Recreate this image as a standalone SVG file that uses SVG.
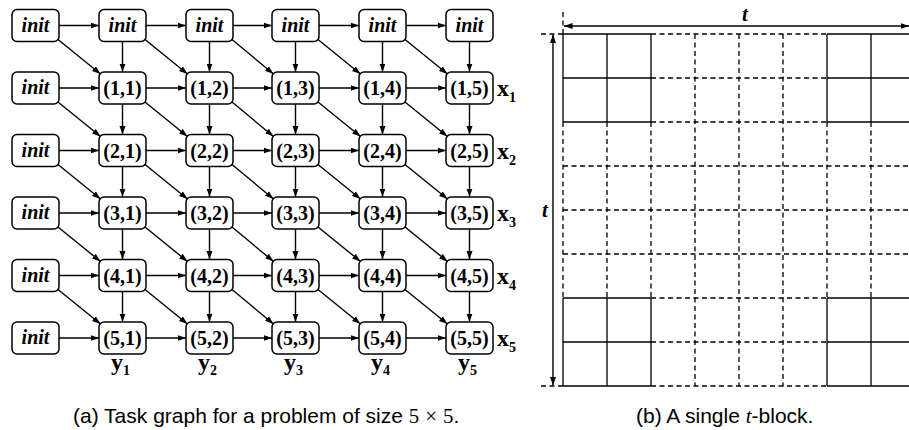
<svg xmlns="http://www.w3.org/2000/svg" width="909" height="430" viewBox="0 0 909 430">
<style>
.n rect{fill:#fff;stroke:#000;stroke-width:1.5}
.n text{font-family:"Liberation Serif",serif;font-weight:bold;font-size:20px;text-anchor:middle;fill:#000}
.n text.i{font-style:italic}
.e line{stroke:#000;stroke-width:1.4;marker-end:url(#ah)}
.lab{font-family:"Liberation Serif",serif;font-weight:bold;font-size:24px;fill:#000}
.lab tspan{font-size:14px}
.cap{font-family:"Liberation Sans",Arial,sans-serif;font-size:21px;fill:#000}
.math{font-family:"Liberation Serif",serif}
.g line{stroke:#000;stroke-width:1.3}
.g line.d{stroke-dasharray:5,3.5}
.dim line{stroke:#000;stroke-width:1.4}
.tl{font-family:"Liberation Serif",serif;font-weight:bold;font-style:italic;font-size:21px;text-anchor:middle}
</style>
<defs>
<marker id="ah" markerUnits="userSpaceOnUse" markerWidth="9" markerHeight="7" refX="8.5" refY="3.5" orient="auto"><path d="M0,0.5 L8.5,3.5 L0,6.5 z" fill="#000"/></marker>
<marker id="ah2" markerUnits="userSpaceOnUse" markerWidth="9" markerHeight="7" refX="8.5" refY="3.5" orient="auto-start-reverse"><path d="M0,0.5 L8.5,3.5 L0,6.5 z" fill="#000"/></marker>
</defs>

<g id="connectors" class="e">
<line x1="59" y1="25.5" x2="99" y2="25.5"/><line x1="146" y1="25.5" x2="186" y2="25.5"/><line x1="233" y1="25.5" x2="272" y2="25.5"/><line x1="319" y1="25.5" x2="359" y2="25.5"/><line x1="406" y1="25.5" x2="446" y2="25.5"/>
<line x1="59" y1="88" x2="99" y2="88"/><line x1="146" y1="88" x2="186" y2="88"/><line x1="233" y1="88" x2="272" y2="88"/><line x1="319" y1="88" x2="359" y2="88"/><line x1="406" y1="88" x2="446" y2="88"/>
<line x1="59" y1="150.5" x2="99" y2="150.5"/><line x1="146" y1="150.5" x2="186" y2="150.5"/><line x1="233" y1="150.5" x2="272" y2="150.5"/><line x1="319" y1="150.5" x2="359" y2="150.5"/><line x1="406" y1="150.5" x2="446" y2="150.5"/>
<line x1="59" y1="213" x2="99" y2="213"/><line x1="146" y1="213" x2="186" y2="213"/><line x1="233" y1="213" x2="272" y2="213"/><line x1="319" y1="213" x2="359" y2="213"/><line x1="406" y1="213" x2="446" y2="213"/>
<line x1="59" y1="275.5" x2="99" y2="275.5"/><line x1="146" y1="275.5" x2="186" y2="275.5"/><line x1="233" y1="275.5" x2="272" y2="275.5"/><line x1="319" y1="275.5" x2="359" y2="275.5"/><line x1="406" y1="275.5" x2="446" y2="275.5"/>
<line x1="59" y1="338" x2="99" y2="338"/><line x1="146" y1="338" x2="186" y2="338"/><line x1="233" y1="338" x2="272" y2="338"/><line x1="319" y1="338" x2="359" y2="338"/><line x1="406" y1="338" x2="446" y2="338"/>
<line x1="122.5" y1="41.5" x2="122.5" y2="72"/><line x1="209.5" y1="41.5" x2="209.5" y2="72"/><line x1="295.5" y1="41.5" x2="295.5" y2="72"/><line x1="382.5" y1="41.5" x2="382.5" y2="72"/><line x1="469.5" y1="41.5" x2="469.5" y2="72"/>
<line x1="122.5" y1="104" x2="122.5" y2="134.5"/><line x1="209.5" y1="104" x2="209.5" y2="134.5"/><line x1="295.5" y1="104" x2="295.5" y2="134.5"/><line x1="382.5" y1="104" x2="382.5" y2="134.5"/><line x1="469.5" y1="104" x2="469.5" y2="134.5"/>
<line x1="122.5" y1="166.5" x2="122.5" y2="197"/><line x1="209.5" y1="166.5" x2="209.5" y2="197"/><line x1="295.5" y1="166.5" x2="295.5" y2="197"/><line x1="382.5" y1="166.5" x2="382.5" y2="197"/><line x1="469.5" y1="166.5" x2="469.5" y2="197"/>
<line x1="122.5" y1="229" x2="122.5" y2="259.5"/><line x1="209.5" y1="229" x2="209.5" y2="259.5"/><line x1="295.5" y1="229" x2="295.5" y2="259.5"/><line x1="382.5" y1="229" x2="382.5" y2="259.5"/><line x1="469.5" y1="229" x2="469.5" y2="259.5"/>
<line x1="122.5" y1="291.5" x2="122.5" y2="322"/><line x1="209.5" y1="291.5" x2="209.5" y2="322"/><line x1="295.5" y1="291.5" x2="295.5" y2="322"/><line x1="382.5" y1="291.5" x2="382.5" y2="322"/><line x1="469.5" y1="291.5" x2="469.5" y2="322"/>
<line x1="58" y1="39.5" x2="100.5" y2="74"/><line x1="145" y1="39.5" x2="187.5" y2="74"/><line x1="232" y1="39.5" x2="273.5" y2="74"/><line x1="318" y1="39.5" x2="360.5" y2="74"/><line x1="405" y1="39.5" x2="447.5" y2="74"/>
<line x1="58" y1="102" x2="100.5" y2="136.5"/><line x1="145" y1="102" x2="187.5" y2="136.5"/><line x1="232" y1="102" x2="273.5" y2="136.5"/><line x1="318" y1="102" x2="360.5" y2="136.5"/><line x1="405" y1="102" x2="447.5" y2="136.5"/>
<line x1="58" y1="164.5" x2="100.5" y2="199"/><line x1="145" y1="164.5" x2="187.5" y2="199"/><line x1="232" y1="164.5" x2="273.5" y2="199"/><line x1="318" y1="164.5" x2="360.5" y2="199"/><line x1="405" y1="164.5" x2="447.5" y2="199"/>
<line x1="58" y1="227" x2="100.5" y2="261.5"/><line x1="145" y1="227" x2="187.5" y2="261.5"/><line x1="232" y1="227" x2="273.5" y2="261.5"/><line x1="318" y1="227" x2="360.5" y2="261.5"/><line x1="405" y1="227" x2="447.5" y2="261.5"/>
<line x1="58" y1="289.5" x2="100.5" y2="324"/><line x1="145" y1="289.5" x2="187.5" y2="324"/><line x1="232" y1="289.5" x2="273.5" y2="324"/><line x1="318" y1="289.5" x2="360.5" y2="324"/><line x1="405" y1="289.5" x2="447.5" y2="324"/>
</g>

<g id="init-0-0" class="n"><rect x="12" y="9.5" width="47" height="32" rx="5"/><text class="i" x="35.5" y="31.5">init</text></g>
<g id="init-0-1" class="n"><rect x="99" y="9.5" width="47" height="32" rx="5"/><text class="i" x="122.5" y="31.5">init</text></g>
<g id="init-0-2" class="n"><rect x="186" y="9.5" width="47" height="32" rx="5"/><text class="i" x="209.5" y="31.5">init</text></g>
<g id="init-0-3" class="n"><rect x="272" y="9.5" width="47" height="32" rx="5"/><text class="i" x="295.5" y="31.5">init</text></g>
<g id="init-0-4" class="n"><rect x="359" y="9.5" width="47" height="32" rx="5"/><text class="i" x="382.5" y="31.5">init</text></g>
<g id="init-0-5" class="n"><rect x="446" y="9.5" width="47" height="32" rx="5"/><text class="i" x="469.5" y="31.5">init</text></g>
<g id="init-1" class="n"><rect x="12" y="72" width="47" height="32" rx="5"/><text class="i" x="35.5" y="94">init</text></g>
<g id="n11" class="n"><rect x="99" y="72" width="47" height="32" rx="5"/><text x="122.5" y="95">(1,1)</text></g>
<g id="n12" class="n"><rect x="186" y="72" width="47" height="32" rx="5"/><text x="209.5" y="95">(1,2)</text></g>
<g id="n13" class="n"><rect x="272" y="72" width="47" height="32" rx="5"/><text x="295.5" y="95">(1,3)</text></g>
<g id="n14" class="n"><rect x="359" y="72" width="47" height="32" rx="5"/><text x="382.5" y="95">(1,4)</text></g>
<g id="n15" class="n"><rect x="446" y="72" width="47" height="32" rx="5"/><text x="469.5" y="95">(1,5)</text></g>
<g id="init-2" class="n"><rect x="12" y="134.5" width="47" height="32" rx="5"/><text class="i" x="35.5" y="156.5">init</text></g>
<g id="n21" class="n"><rect x="99" y="134.5" width="47" height="32" rx="5"/><text x="122.5" y="157.5">(2,1)</text></g>
<g id="n22" class="n"><rect x="186" y="134.5" width="47" height="32" rx="5"/><text x="209.5" y="157.5">(2,2)</text></g>
<g id="n23" class="n"><rect x="272" y="134.5" width="47" height="32" rx="5"/><text x="295.5" y="157.5">(2,3)</text></g>
<g id="n24" class="n"><rect x="359" y="134.5" width="47" height="32" rx="5"/><text x="382.5" y="157.5">(2,4)</text></g>
<g id="n25" class="n"><rect x="446" y="134.5" width="47" height="32" rx="5"/><text x="469.5" y="157.5">(2,5)</text></g>
<g id="init-3" class="n"><rect x="12" y="197" width="47" height="32" rx="5"/><text class="i" x="35.5" y="219">init</text></g>
<g id="n31" class="n"><rect x="99" y="197" width="47" height="32" rx="5"/><text x="122.5" y="220">(3,1)</text></g>
<g id="n32" class="n"><rect x="186" y="197" width="47" height="32" rx="5"/><text x="209.5" y="220">(3,2)</text></g>
<g id="n33" class="n"><rect x="272" y="197" width="47" height="32" rx="5"/><text x="295.5" y="220">(3,3)</text></g>
<g id="n34" class="n"><rect x="359" y="197" width="47" height="32" rx="5"/><text x="382.5" y="220">(3,4)</text></g>
<g id="n35" class="n"><rect x="446" y="197" width="47" height="32" rx="5"/><text x="469.5" y="220">(3,5)</text></g>
<g id="init-4" class="n"><rect x="12" y="259.5" width="47" height="32" rx="5"/><text class="i" x="35.5" y="281.5">init</text></g>
<g id="n41" class="n"><rect x="99" y="259.5" width="47" height="32" rx="5"/><text x="122.5" y="282.5">(4,1)</text></g>
<g id="n42" class="n"><rect x="186" y="259.5" width="47" height="32" rx="5"/><text x="209.5" y="282.5">(4,2)</text></g>
<g id="n43" class="n"><rect x="272" y="259.5" width="47" height="32" rx="5"/><text x="295.5" y="282.5">(4,3)</text></g>
<g id="n44" class="n"><rect x="359" y="259.5" width="47" height="32" rx="5"/><text x="382.5" y="282.5">(4,4)</text></g>
<g id="n45" class="n"><rect x="446" y="259.5" width="47" height="32" rx="5"/><text x="469.5" y="282.5">(4,5)</text></g>
<g id="init-5" class="n"><rect x="12" y="322" width="47" height="32" rx="5"/><text class="i" x="35.5" y="344">init</text></g>
<g id="n51" class="n"><rect x="99" y="322" width="47" height="32" rx="5"/><text x="122.5" y="345">(5,1)</text></g>
<g id="n52" class="n"><rect x="186" y="322" width="47" height="32" rx="5"/><text x="209.5" y="345">(5,2)</text></g>
<g id="n53" class="n"><rect x="272" y="322" width="47" height="32" rx="5"/><text x="295.5" y="345">(5,3)</text></g>
<g id="n54" class="n"><rect x="359" y="322" width="47" height="32" rx="5"/><text x="382.5" y="345">(5,4)</text></g>
<g id="n55" class="n"><rect x="446" y="322" width="47" height="32" rx="5"/><text x="469.5" y="345">(5,5)</text></g>

<g id="row-labels">
<text class="lab" x="497" y="96">x<tspan dy="6">1</tspan></text>
<text class="lab" x="497" y="158.5">x<tspan dy="6">2</tspan></text>
<text class="lab" x="497" y="221">x<tspan dy="6">3</tspan></text>
<text class="lab" x="497" y="283.5">x<tspan dy="6">4</tspan></text>
<text class="lab" x="497" y="346">x<tspan dy="6">5</tspan></text>
</g>
<g id="col-labels">
<text class="lab" x="111" y="370">y<tspan dy="5">1</tspan></text>
<text class="lab" x="198" y="370">y<tspan dy="5">2</tspan></text>
<text class="lab" x="284" y="370">y<tspan dy="5">3</tspan></text>
<text class="lab" x="371" y="370">y<tspan dy="5">4</tspan></text>
<text class="lab" x="458" y="370">y<tspan dy="5">5</tspan></text>
</g>

<text class="cap" x="73" y="423">(a) Task graph for a problem of size <tspan class="math">5</tspan><tspan class="math" dx="6">×</tspan><tspan class="math" dx="6">5</tspan>.</text>

<g id="grid" class="g">
<line x1="563" y1="34" x2="651" y2="34"/><line class="d" x1="651" y1="34" x2="827" y2="34"/><line x1="827" y1="34" x2="909" y2="34"/>
<line x1="563" y1="78" x2="651" y2="78"/><line class="d" x1="651" y1="78" x2="827" y2="78"/><line x1="827" y1="78" x2="909" y2="78"/>
<line x1="563" y1="122" x2="651" y2="122"/><line class="d" x1="651" y1="122" x2="827" y2="122"/><line x1="827" y1="122" x2="909" y2="122"/>
<line class="d" x1="563" y1="166" x2="909" y2="166"/>
<line class="d" x1="563" y1="210" x2="909" y2="210"/>
<line class="d" x1="563" y1="254" x2="909" y2="254"/>
<line x1="563" y1="298" x2="651" y2="298"/><line class="d" x1="651" y1="298" x2="827" y2="298"/><line x1="827" y1="298" x2="909" y2="298"/>
<line x1="563" y1="342" x2="651" y2="342"/><line class="d" x1="651" y1="342" x2="827" y2="342"/><line x1="827" y1="342" x2="909" y2="342"/>
<line x1="563" y1="386" x2="651" y2="386"/><line class="d" x1="651" y1="386" x2="827" y2="386"/><line x1="827" y1="386" x2="909" y2="386"/>
<line x1="563" y1="34" x2="563" y2="122"/><line class="d" x1="563" y1="122" x2="563" y2="298"/><line x1="563" y1="298" x2="563" y2="386"/>
<line x1="607" y1="34" x2="607" y2="122"/><line class="d" x1="607" y1="122" x2="607" y2="298"/><line x1="607" y1="298" x2="607" y2="386"/>
<line x1="651" y1="34" x2="651" y2="122"/><line class="d" x1="651" y1="122" x2="651" y2="298"/><line x1="651" y1="298" x2="651" y2="386"/>
<line class="d" x1="695" y1="34" x2="695" y2="386"/>
<line class="d" x1="739" y1="34" x2="739" y2="386"/>
<line class="d" x1="783" y1="34" x2="783" y2="386"/>
<line x1="827" y1="34" x2="827" y2="122"/><line class="d" x1="827" y1="122" x2="827" y2="298"/><line x1="827" y1="298" x2="827" y2="386"/>
<line x1="871" y1="34" x2="871" y2="122"/><line class="d" x1="871" y1="122" x2="871" y2="298"/><line x1="871" y1="298" x2="871" y2="386"/>
<line class="d" x1="541" y1="34" x2="563" y2="34"/>
<line class="d" x1="541" y1="386" x2="563" y2="386"/>
<line class="d" x1="563" y1="12" x2="563" y2="34"/>
</g>
<g id="dimensions" class="dim">
<line x1="564" y1="26" x2="909" y2="26" marker-start="url(#ah2)" marker-end="url(#ah2)"/>
<line x1="553" y1="34.5" x2="553" y2="385.5" marker-start="url(#ah2)" marker-end="url(#ah2)"/>
<text class="tl" x="745" y="21">t</text>
<text class="tl" x="545" y="217">t</text>
</g>

<text class="cap" x="636" y="423">(b) A single <tspan class="math" font-style="italic">t</tspan>-block.</text>
</svg>
